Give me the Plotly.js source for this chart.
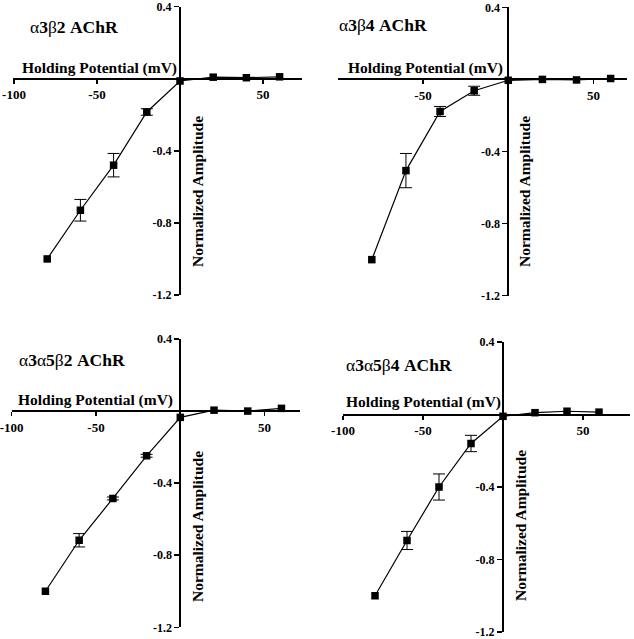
<!DOCTYPE html>
<html>
<head>
<meta charset="utf-8">
<script src="https://cdn.plot.ly/plotly-3.0.1.min.js"></script>
<style>html,body{margin:0;padding:0;background:#fff;}#plot{width:634px;height:639px;}</style>
</head>
<body>
<div id="plot"></div>
<script>
// ---- data ----
const voltage = [-80, -60, -40, -20, 0, 20, 40, 60];
const amp_a3b2 = [-1.0, -0.73, -0.48, -0.185, -0.013, 0.008, 0.005, 0.01];
const err_a3b2 = [0, 0.06, 0.065, 0.018, 0, 0, 0, 0];
const amp_a3b4 = [-1.0, -0.506, -0.178, -0.063, -0.005, 0.0, -0.003, 0.005];
const err_a3b4 = [0, 0.095, 0.028, 0.025, 0, 0, 0, 0];
const amp_a3a5b2 = [-1.0, -0.717, -0.485, -0.248, -0.035, 0.005, 0.0, 0.015];
const err_a3a5b2 = [0, 0.037, 0.008, 0.008, 0, 0, 0, 0];
const amp_a3a5b4 = [-1.0, -0.695, -0.40, -0.16, -0.01, 0.01, 0.018, 0.013];
const err_a3a5b4 = [0, 0.05, 0.072, 0.045, 0, 0, 0, 0];
const panelTitles = ['α<b>3</b>β<b>2 AChR</b>', 'α<b>3</b>β<b>4 AChR</b>', 'α<b>3</b>α<b>5</b>β<b>2 AChR</b>', 'α<b>3</b>α<b>5</b>β<b>4 AChR</b>'];
const xTickVals = [-100, -50, 50];
const yTickVals = [0.4, -0.4, -0.8, -1.2];
const xLabel = 'Holding Potential (mV)';
const yLabel = 'Normalized Amplitude';

// ---- layout geometry (pixels) ----
const W = 634, H = 639;
const FONT = 'Liberation Serif, Times New Roman, serif';
const panels = [
  {amp: amp_a3b2, err: err_a3b2, xl: 13, xr: 302, x0: 180, s: 1.66, yt: 6.5, yb: 295, tx: 28, ty: 27, hx: 20, hy: 68, nx: 197, ny: 192},
  {amp: amp_a3b4, err: err_a3b4, xl: 338, xr: 627, x0: 508.3, s: 1.706, yt: 7.3, yb: 295.7, tx: 337, ty: 25, hx: 346, hy: 68, nx: 524, ny: 192},
  {amp: amp_a3a5b2, err: err_a3a5b2, xl: 11.7, xr: 300, x0: 180.3, s: 1.686, yt: 339, yb: 627.3, tx: 17, ty: 360, hx: 16, hy: 400, nx: 197, ny: 527},
  {amp: amp_a3a5b4, err: err_a3a5b4, xl: 343, xr: 630, x0: 503, s: 1.6, yt: 342, yb: 632, tx: 344, ty: 365, hx: 344, hy: 402, nx: 520, ny: 526}
];

const traces = [];
const layout = {
  width: W, height: H,
  margin: {l: 0, r: 0, t: 0, b: 0},
  paper_bgcolor: '#fff', plot_bgcolor: 'rgba(0,0,0,0)',
  showlegend: false,
  font: {family: FONT, color: '#000'},
  annotations: []
};

panels.forEach((p, i) => {
  const n = i === 0 ? '' : String(i + 1);
  traces.push({
    type: 'scatter', mode: 'lines+markers',
    x: voltage, y: p.amp,
    xaxis: 'x' + n, yaxis: 'y' + n,
    line: {color: '#000', width: 1.2},
    marker: {symbol: 'square', size: 7.5, color: '#000'},
    error_y: {type: 'data', array: p.err.map(e => (e > 0 ? e : NaN)), visible: true, color: '#000', thickness: 1, width: 6},
    cliponaxis: false
  });
  const y0px = p.yt + 0.4 * (p.yb - p.yt) / 1.6;
  layout['xaxis' + n] = {
    domain: [p.xl / W, p.xr / W],
    range: [(p.xl - p.x0) / p.s, (p.xr - p.x0) / p.s],
    anchor: 'free', position: 1 - y0px / H,
    showline: true, linecolor: '#000', linewidth: 2,
    showgrid: false, zeroline: false,
    ticks: 'outside', ticklen: 4, tickwidth: 1.5, tickcolor: '#000',
    tickmode: 'array', tickvals: xTickVals, ticktext: xTickVals.map(String),
    tickfont: {family: FONT, size: 13, weight: 'bold', color: '#000'},
    ticklabeloverflow: 'allow',
    fixedrange: true
  };
  layout['yaxis' + n] = {
    domain: [1 - p.yb / H, 1 - p.yt / H],
    range: [-1.2, 0.4],
    anchor: 'free', position: p.x0 / W,
    showline: true, linecolor: '#000', linewidth: 2,
    showgrid: false, zeroline: false,
    ticks: 'outside', ticklen: 5, tickwidth: 1.5, tickcolor: '#000',
    tickmode: 'array', tickvals: yTickVals, ticktext: yTickVals.map(v => v.toFixed(1)),
    tickfont: {family: FONT, size: 12, weight: 'bold', color: '#000'},
    ticklabeloverflow: 'allow',
    fixedrange: true
  };
  layout.annotations.push({
    xref: 'paper', yref: 'paper', x: p.tx / W, y: 1 - p.ty / H,
    xanchor: 'left', yanchor: 'middle', showarrow: false,
    text: panelTitles[i], font: {family: FONT, size: 17.5, color: '#000'}
  });
  layout.annotations.push({
    xref: 'paper', yref: 'paper', x: p.hx / W, y: 1 - p.hy / H,
    xanchor: 'left', yanchor: 'middle', showarrow: false,
    text: '<b>' + xLabel + '</b>', font: {family: FONT, size: 15.5, color: '#000'}
  });
  layout.annotations.push({
    xref: 'paper', yref: 'paper', x: p.nx / W, y: 1 - p.ny / H,
    xanchor: 'center', yanchor: 'middle', showarrow: false, textangle: -90,
    text: '<b>' + yLabel + '</b>', font: {family: FONT, size: 15.5, color: '#000'}
  });
});

Plotly.newPlot('plot', traces, layout, {staticPlot: true, displayModeBar: false});
</script>
</body>
</html>
